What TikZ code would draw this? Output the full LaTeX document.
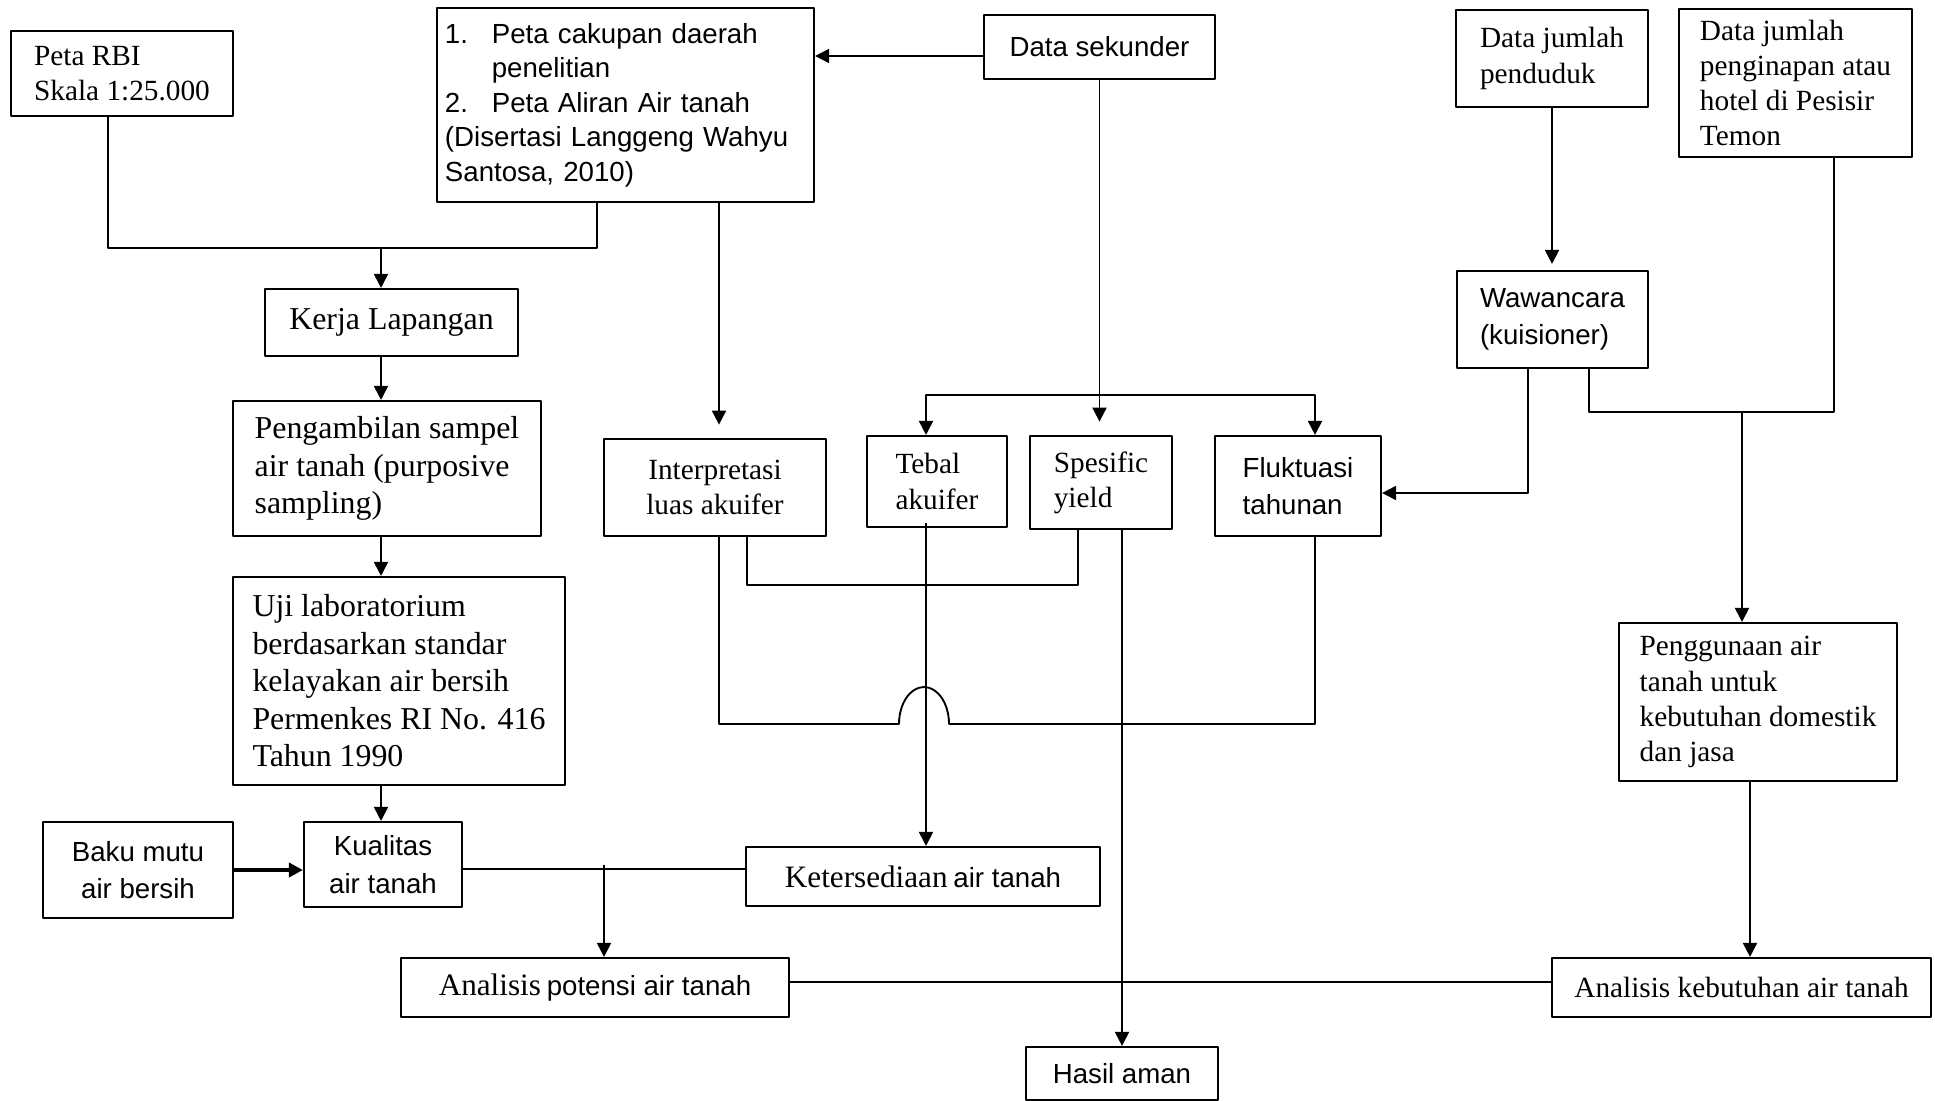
\documentclass[tikz,border=0pt]{standalone}
\usepackage{fontspec}
\setmainfont{Liberation Serif}
\setsansfont{Liberation Sans}
\usetikzlibrary{arrows.meta}

\begin{document}
\begin{tikzpicture}[x=0.015cm, y=-0.015cm, line width=0.8pt, line join=round,
		>={Triangle[length=6pt,width=6pt]},
		box/.style={draw, line width=0.9pt, inner sep=0pt, align=left},
		sz/.style 2 args={minimum width=#1*0.015cm, minimum height=#2*0.015cm},
		rm/.style={font=\fontsize{12.5}{15}\selectfont},
		rmb/.style={font=\fontsize{13.6}{16}\selectfont},
		sf/.style={font=\sffamily\fontsize{11.8}{16}\selectfont}]
	\useasboundingbox (0,0) rectangle (1935,1101);
	% boxes
	\node[box,rm,sz={222}{85}] (rbi) at (122,73.5) {Peta RBI\\Skala 1:25.000};
	\node[box,font=\sffamily\fontsize{11.8}{14.7}\selectfont,text width=5.415cm,inner xsep=0.12cm,minimum height=194*0.015cm] (peta) at (625.5,105)
		{\makebox[20pt][l]{1.}Peta cakupan daerah\\\hspace*{20pt}penelitian\\\makebox[20pt][l]{2.}Peta Aliran Air tanah\\(Disertasi Langgeng Wahyu\\Santosa, 2010)};
	\node[box,sf,sz={231}{64}] (sekunder) at (1099.5,47) {Data sekunder};
	\node[box,rm,sz={192}{97}] (penduduk) at (1552,58.5) {Data jumlah\\penduduk};
	\node[box,rm,sz={233}{148}] (hotel) at (1795.5,83) {Data jumlah\\penginapan atau\\hotel di Pesisir\\Temon};
	\node[box,rmb,sz={253}{67}] (kerja) at (391.5,322.5) {Kerja Lapangan};
	\node[box,rmb,sz={308}{135}] (sampel) at (387,468.5) {Pengambilan sampel\\air tanah (purposive\\sampling)};
	\node[box,rmb,sz={332}{208}] (uji) at (399,681) {Uji laboratorium\\berdasarkan standar\\kelayakan air bersih\\Permenkes RI No. 416\\Tahun 1990};
	\node[box,sf,align=center,sz={190}{96}] (baku) at (138,870) {Baku mutu\\air bersih};
	\node[box,sf,align=center,sz={158}{85}] (kualitas) at (383,864.5) {Kualitas\\air tanah};
	\node[box,sz={354}{59}] (sedia) at (923,876.5) {{\fontsize{13.3}{16}\selectfont Ketersediaan} {\sffamily\fontsize{11.8}{16}\selectfont air tanah}};
	\node[box,sz={388}{59}] (potensi) at (595,987.5) {{\fontsize{13.3}{16}\selectfont Analisis} {\sffamily\fontsize{11.8}{16}\selectfont potensi air tanah}};
	\node[box,sf,sz={192}{53}] (aman) at (1122,1073.5) {Hasil aman};
	\node[box,rm,align=center,sz={222}{97}] (luas) at (715,487.5) {Interpretasi\\luas akuifer};
	\node[box,rm,sz={140}{91}] (tebal) at (937,481.5) {Tebal\\akuifer};
	\node[box,rm,sz={142}{93}] (yield) at (1101,482.5) {Spesific\\yield};
	\node[box,sf,sz={166}{100}] (fluk) at (1298,486) {Fluktuasi\\tahunan};
	\node[box,sf,sz={191}{97}] (wawancara) at (1552.5,319.5) {Wawancara\\(kuisioner)};
	\node[box,rm,sz={278}{158}] (guna) at (1758,702) {Penggunaan air\\tanah untuk\\kebutuhan domestik\\dan jasa};
	\node[box,rm,sz={379}{59}] (butuh) at (1741.5,987.5) {Analisis kebutuhan air tanah};
	% bend points
	\coordinate (rbiL) at (108,248);
	\coordinate (petaL) at (597,248);
	\coordinate (kol) at (381,248);
	\coordinate (jD) at (604,869);
	\coordinate (jE) at (1000,982);
	\coordinate (jF) at (719,724);
	\coordinate (jG) at (900,56);
	\coordinate (jH) at (926,395);
	\coordinate (jI) at (1315,395);
	\coordinate (jJ) at (747,585);
	\coordinate (jK) at (1078,585);
	\coordinate (jL) at (899,724);
	\coordinate (jM) at (1315,724);
	\coordinate (jN) at (1528,493);
	\coordinate (jO) at (1589,412);
	\coordinate (jP) at (1834,412);
	\coordinate (jQ) at (1742,412);
	\coordinate (jR) at (1750,800);
	% left column
	\draw (rbi.south -| rbiL) |- (petaL) -- (peta.south -| petaL);
	\draw[->] (kol) -- (kerja.north -| kol);
	\foreach \a/\b in {kerja/sampel, sampel/uji, uji/kualitas}{
		\draw[->] (\a.south -| kol) -- (\b.north -| kol);}
	\draw[->, line width=1.5pt] (baku.east) -- (kualitas.west |- baku.east);
	\draw (kualitas.east |- jD) -- (sedia.west |- jD);
	\draw[->] ([yshift=0.06cm]jD) -- (potensi.north -| jD);
	\draw (potensi.east |- jE) -- (butuh.west |- jE);
	% middle
	\draw[->] (sekunder.west |- jG) -- (peta.east |- jG);
	\draw[->, shorten >=0.2cm] (peta.south -| jF) -- (luas.north -| jF);
	\draw[->, shorten >=0.2cm] (sekunder.south) -- (sekunder.south |- yield.north);
	\draw[<->] (tebal.north -| jH) |- (jI) -- (fluk.north -| jI);
	\draw (luas.south -| jJ) |- (jK) -- (jK |- yield.south);
	\draw (luas.south -| jF) -- (jF) -- (jL) arc[start angle=180, end angle=0, x radius=0.375cm, y radius=0.555cm] -- (jM) -- (jM |- fluk.south);
	\draw[->] ([yshift=0.075cm]tebal.south -| jH) -- (sedia.north -| jH);
	\draw[->] (yield.south -| aman.north) -- (aman.north);
	% right
	\draw[->, shorten >=0.09cm] (penduduk.south) -- (penduduk.south |- wawancara.north);
	\draw[->] (wawancara.south -| jN) |- (fluk.east |- jN);
	\draw (wawancara.south -| jO) |- (jP) -- (hotel.south -| jP);
	\draw[->] (jQ) -- (guna.north -| jQ);
	\draw[->] (guna.south -| jR) -- (butuh.north -| jR);
\end{tikzpicture}
\end{document}
